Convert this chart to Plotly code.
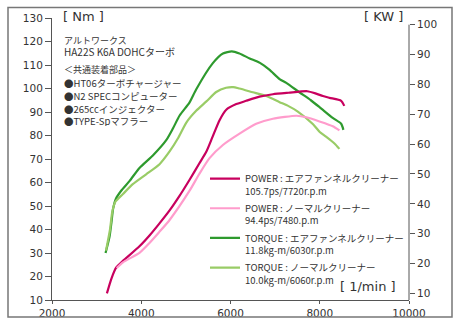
import plotly.graph_objects as go

# Engine speed (rpm) and values for each curve
torque_af_rpm = [3200, 3290, 3330, 3370, 3430, 3550, 3740, 3960, 4260, 4560, 4710, 4860, 5080, 5230,
                 5600, 5830, 6030, 6200, 6430, 6650, 6870, 7100, 7250, 7550, 7800, 8000, 8290, 8480, 8530]
torque_af_nm = [30.0, 37.0, 42.6, 48.9, 53.0, 56.5, 60.7, 66.2, 71.5, 78.0, 83.0, 88.5, 94.0, 99.6,
                110.7, 114.9, 115.8, 114.9, 112.8, 111.0, 108.0, 104.0, 102.4, 98.3, 95.0, 92.0, 87.5, 85.0, 82.4]

torque_std_rpm = [3210, 3300, 3350, 3420, 3590, 3810, 4110, 4410, 4635, 4820, 5010, 5230, 5460,
                  5680, 5900, 6060, 6200, 6500, 6800, 7100, 7300, 7500, 7850, 8000, 8140, 8330, 8440]
torque_std_nm = [31.0, 40.0, 47.5, 51.8, 55.1, 59.3, 63.5, 67.8, 73.2, 78.7, 85.5, 90.5, 94.5,
                 98.5, 100.3, 100.6, 100.0, 98.4, 96.8, 94.2, 92.5, 90.3, 84.8, 81.5, 79.5, 76.6, 74.3]

power_af_rpm = [3230, 3330, 3440, 3590, 3960, 4190, 4400, 4635, 4850, 5080, 5300, 5460, 5600, 5755,
                5905, 6130, 6350, 6650, 6950, 7300, 7720, 7920, 8070, 8220, 8480, 8550]
power_af_kw = [10.0, 14.9, 18.7, 20.9, 25.8, 29.5, 33.3, 37.8, 42.5, 48.0, 53.5, 57.5, 62.5, 68.0,
               71.5, 73.4, 74.5, 75.9, 76.7, 77.2, 77.7, 76.9, 76.1, 75.5, 74.5, 72.8]

power_std_rpm = [3450, 3590, 3960, 4190, 4400, 4635, 5083, 5300, 5530, 5830, 6203, 6576, 6950, 7480,
                 7700, 7994, 8292, 8441]
power_std_kw = [18.5, 20.4, 23.6, 27.0, 30.5, 34.6, 44.4, 50.0, 55.3, 59.7, 63.5, 66.8, 68.5, 69.5,
                69.0, 67.6, 66.0, 64.6]

series_names = [
    "POWER : エアファンネルクリーナー<br>105.7ps/7720r.p.m",
    "POWER : ノーマルクリーナー<br>94.4ps/7480.p.m",
    "TORQUE : エアファンネルクリーナー<br>11.8kg-m/6030r.p.m",
    "TORQUE : ノーマルクリーナー<br>10.0kg-m/6060r.p.m",
]
series_colors = ["#c8005e", "#ff9ccc", "#2e9a2e", "#99cc66"]

x_ticks = [2000, 4000, 6000, 8000, 10000]
x_tick_text = ["2000", "4000", "6000", "8000", "10000"]
nm_ticks = list(range(10, 131, 10))
kw_ticks = list(range(10, 101, 10))

info_lines = [
    "アルトワークス",
    "HA22S K6A DOHCターボ",
    "＜共通装着部品＞",
    "●HT06ターボチャージャー",
    "●N2 SPECコンピューター",
    "●265ccインジェクター",
    "●TYPE-Spマフラー",
]
info_y_px = [40, 51, 70, 83, 96, 109, 122]
info_size = [9, 10, 9, 9.5, 9.5, 9.5, 9.5]

W, H = 462, 331
L, R, T, B = 52, 53, 17, 26
PW, PH = W - L - R, H - T - B


def px_x(px):
    return (px - L) / PW


def px_y(py):
    return (H - B - py) / PH


JP = "Noto Sans CJK JP"
TXT = "#333333"
AX = "#555555"

fig = go.Figure()

curves = [
    (power_af_rpm, power_af_kw, "y2"),
    (power_std_rpm, power_std_kw, "y2"),
    (torque_af_rpm, torque_af_nm, "y"),
    (torque_std_rpm, torque_std_nm, "y"),
]
for i, (xs, ys, ax) in enumerate(curves):
    fig.add_trace(go.Scatter(
        x=xs, y=ys, yaxis=ax, mode="lines", name=series_names[i],
        legendgroup=str(i),
        line=dict(color=series_colors[i], width=2.2, shape="spline", smoothing=0.6),
    ))

annotations = []
for txt, py, sz in zip(info_lines, info_y_px, info_size):
    annotations.append(dict(text=txt, x=px_x(62), y=px_y(py), xref="paper", yref="paper",
                            xanchor="left", yanchor="middle", showarrow=False, height=11,
                            font=dict(family=JP, size=sz, color=TXT)))

for txt, xpx, ypx in [("[ Nm ]", 61, 15), ("[ KW ]", 362, 15), ("[ 1/min ]", 338, 291)]:
    annotations.append(dict(text=txt, x=px_x(xpx), y=px_y(ypx), xref="paper", yref="paper",
                            xanchor="left", yanchor="middle", showarrow=False, height=13,
                            font=dict(family="DejaVu Sans", size=13, color=TXT)))

tick_font = dict(family="DejaVu Sans", size=10.5, color=TXT)

fig.update_layout(
    width=W, height=H, autosize=False,
    margin=dict(l=L, r=R, t=T, b=B, pad=0),
    paper_bgcolor="white", plot_bgcolor="white",
    showlegend=True,
    legend=dict(x=px_x(205), y=px_y(168), xanchor="left", yanchor="top",
                bgcolor="rgba(0,0,0,0)", borderwidth=0, valign="top",
                tracegroupgap=2,
                font=dict(family=JP, size=9.5, color=TXT)),
    xaxis=dict(range=[2000, 10000], tickvals=x_ticks, ticktext=x_tick_text,
               ticks="outside", ticklen=3,
               tickcolor=AX, showline=True, linecolor=AX, linewidth=1,
               showgrid=False, zeroline=False, tickfont=tick_font),
    yaxis=dict(range=[10, 130], tickvals=nm_ticks, ticks="outside", ticklen=6,
               tickcolor=AX, showline=True, linecolor=AX, linewidth=1,
               showgrid=False, zeroline=False, tickfont=tick_font),
    yaxis2=dict(range=[7.80, 102.23], tickvals=kw_ticks, overlaying="y", side="right",
                ticks="outside", ticklen=5, tickcolor=AX, showline=False,
                showgrid=False, zeroline=False, tickfont=tick_font),
    annotations=annotations,
    shapes=[
        dict(type="line", xref="paper", yref="y2", x0=1, x1=1, y0=7.80, y1=100,
             line=dict(color=AX, width=1)),
        dict(type="rect", xref="paper", yref="paper",
             x0=px_x(8), x1=px_x(452), y0=px_y(322.3), y1=px_y(6.3),
             line=dict(color="#777777", width=1.5)),
    ],
)

fig.write_html("out.html")
